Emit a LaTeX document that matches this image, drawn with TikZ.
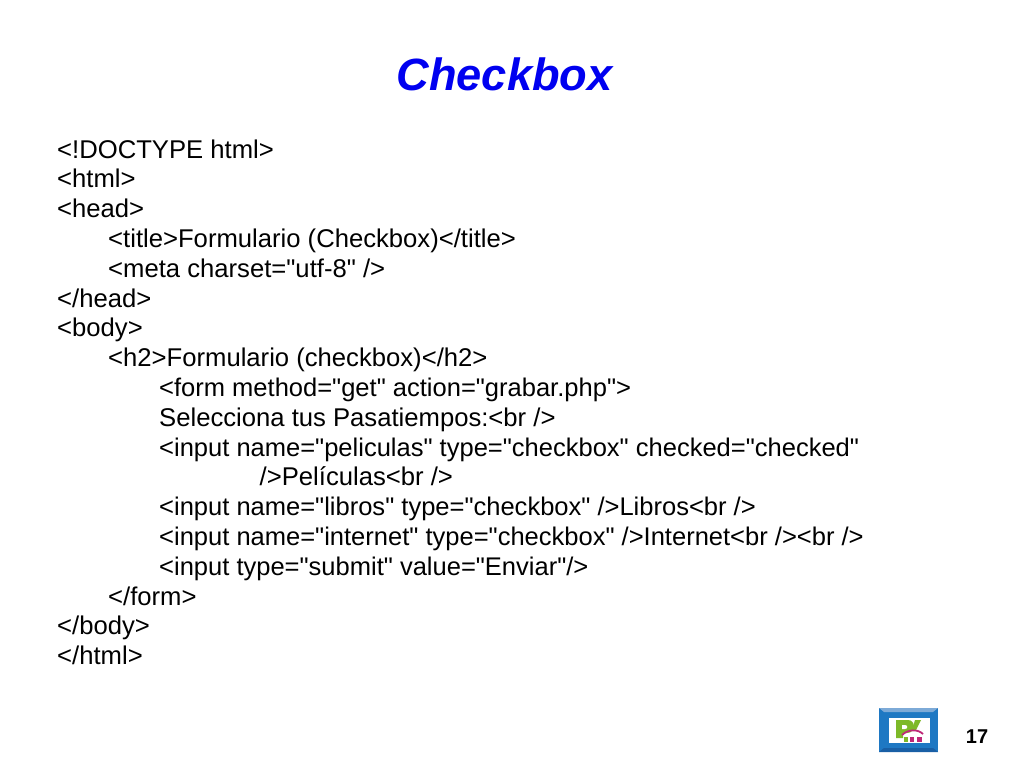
\documentclass[tikz,border=0pt]{standalone}
\usepackage{fontspec}
\setmainfont{Liberation Sans}
\newfontfamily\codefont{Liberation Sans}
\definecolor{titleblue}{RGB}{0,0,240}
\definecolor{logoblue}{RGB}{30,120,195}
\definecolor{logolight}{RGB}{125,170,215}
\definecolor{logodark}{RGB}{25,95,165}
\definecolor{logogreen}{RGB}{125,185,40}
\definecolor{logomag}{RGB}{190,40,120}
\tikzset{
  code/.style={anchor=base west,inner sep=0pt,font=\codefont\fontsize{25.65}{26}\selectfont,text=black},
  codeq/.style={anchor=base west,inner sep=0pt,font=\codefont\fontsize{25.52}{26}\selectfont,text=black},
  title/.style={anchor=base,inner sep=0pt,font=\fontsize{45.2}{46}\selectfont\bfseries\itshape,text=titleblue},
  pagenum/.style={anchor=base,inner sep=0pt,font=\fontsize{20}{20}\selectfont\bfseries,text=black}
}
\begin{document}
\begin{tikzpicture}[x=1pt,y=-1pt]
\useasboundingbox (0,0) rectangle (1024,768);
\fill[white] (0,0) rectangle (1024,768);
\node[title] (t) at (504.5,90) {Checkbox};
\node[code] (l1) at (57,158) {<!DOCTYPE html>};
\node[code] (l2) at (57,187.8) {<html>};
\node[code] (l3) at (57,217.6) {<head>};
\node[code] (l4) at (108,247.4) {<title>Formulario (Checkbox)</title>};
\node[code] (l5) at (108,277.2) {<meta charset="utf-8" />};
\node[code] (l6) at (57,307) {</head>};
\node[code] (l7) at (57,336.8) {<body>};
\node[code] (l8) at (108,366.6) {<h2>Formulario (checkbox)</h2>};
\node[codeq] (l9) at (159,396.4) {<form method="get" action="grabar.php">};
\node[code] (l10) at (159,426.2) {Selecciona tus Pasatiempos:<br />};
\node[codeq] (l11) at (159,456) {<input name="peliculas" type="checkbox" checked="checked"};
\node[code] (l12) at (259.5,485.8) {/>Películas<br />};
\node[codeq] (l13) at (159,515.6) {<input name="libros" type="checkbox" />Libros<br />};
\node[codeq] (l14) at (159,545.4) {<input name="internet" type="checkbox" />Internet<br /><br />};
\node[codeq] (l15) at (159,575.2) {<input type="submit" value="Enviar"/>};
\node[code] (l16) at (108,605) {</form>};
\node[code] (l17) at (57,634.8) {</body>};
\node[code] (l18) at (57,664.6) {</html>};
\node[pagenum] (n) at (977,743) {17};
% logo
\fill[logoblue] (879,708) rectangle (938,752);
\fill[logolight] (879,708) -- (938,708) -- (933,712) -- (884,712) -- cycle;
\fill[logodark] (879,752) -- (938,752) -- (933,748) -- (884,748) -- cycle;
\fill[white] (889,718) rectangle (930,743);
\fill[logogreen] (896,720) -- (908,720) .. controls (916,720) and (916,733) .. (907,733) -- (903,733) -- (903,738) -- (896,738) -- cycle;
\fill[white] (902,725) -- (905,725) .. controls (908,725) and (908,729) .. (905,729) -- (902,729) -- cycle;
\fill[logogreen] (915,720) -- (921,720) -- (916,730) -- (912,730) -- cycle;
\draw[logomag,line width=1.8pt] (902,735) .. controls (908,729) and (918,729) .. (923,734);
\fill[logogreen] (904,737) rectangle (908,742);
\fill[logomag] (910,737) rectangle (914,742);
\fill[logomag] (917,737) rectangle (922,742);
\end{tikzpicture}
\end{document}
